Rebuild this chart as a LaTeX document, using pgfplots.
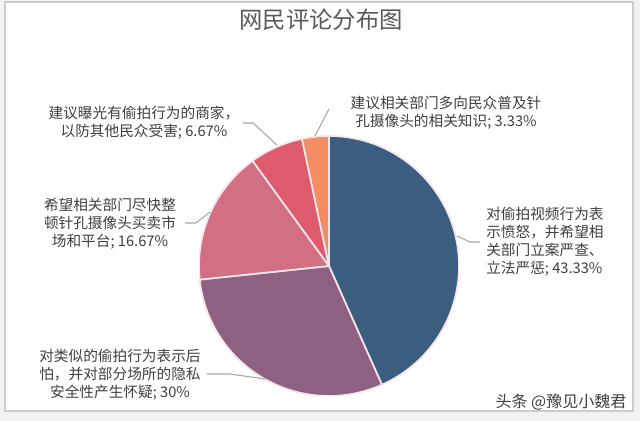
\documentclass[border=0pt]{standalone}
\usepackage{pgfplots}
\pgfplotsset{compat=1.18}
\usepackage{pgfplotstable}
\usepackage{fontspec}
\newfontfamily\cjk{Noto Sans CJK SC}
\definecolor{c0}{HTML}{3A5D80}
\definecolor{c1}{HTML}{8E6081}
\definecolor{c2}{HTML}{D26F82}
\definecolor{c3}{HTML}{DE5B6E}
\definecolor{c4}{HTML}{F28D64}
\definecolor{edge}{HTML}{F5E4EA}
\definecolor{lbl}{HTML}{404040}
\definecolor{lead}{HTML}{A6A6A6}
\pgfplotstableread{
value
43.33
30
16.67
6.67
3.33
}\piedata
\begin{document}
\begin{tikzpicture}[x=0.75pt,y=0.75pt]
\fill[black!5] (0,0) rectangle (640,421);
\fill[white,draw=black!20,line width=1.1pt] (5,10) rectangle (633,419);
\begin{axis}[at={(246.75pt,116.25pt)},anchor=center,scale only axis,width=195pt,height=195pt,
  xmin=-1,xmax=1,ymin=-1,ymax=1,hide axis]
\pgfplotsextra{%
  \gdef\cumang{90}%
  \pgfplotsforeachungrouped \i in {0,...,4}{%
    \pgfplotstablegetelem{\i}{value}\of\piedata
    \pgfmathsetmacro\endang{\cumang-3.6*\pgfplotsretval}%
    \edef\cmd{\noexpand\filldraw[fill=c\i,draw=edge,line width=1.3pt,line join=round] (axis cs:0,0) -- ++(\cumang:97.5pt) arc[start angle=\cumang,end angle=\endang,radius=97.5pt] -- cycle;}%
    \cmd
    \xdef\cumang{\endang}%
  }%
}
\end{axis}
% leader lines
\draw[lead,line width=0.8pt] (315,285) -- (329,312);
\draw[lead,line width=0.8pt] (243,298) -- (253,298) -- (277,276);
\draw[lead,line width=0.8pt] (185,198) -- (196,198) -- (210,209);
\draw[lead,line width=0.8pt] (457,185) -- (470,179) -- (480,179);
\draw[lead,line width=0.8pt] (207,47) -- (230,47) -- (265,42);
% labels
\tikzset{lb/.style={text=lbl,inner sep=0pt,font=\cjk\fontsize{11}{13.5}\selectfont}}
\node[lb,align=center] at (446,308) {建议相关部门多向民众普及针\\孔摄像头的相关知识; 3.33\%};
\node[lb,align=center] at (144,298) {建议曝光有偷拍行为的商家，\\以防其他民众受害; 6.67\%};
\node[lb,align=center] at (110,197) {希望相关部门尽快整\\顿针孔摄像头买卖市\\场和平台; 16.67\%};
\node[lb,align=left,anchor=west] at (486,179) {对偷拍视频行为表\\示愤怒，并希望相\\关部门立案严查、\\立法严惩; 43.33\%};
\node[lb,align=center] at (120,46) {对类似的偷拍行为表示后\\怕，并对部分场所的隐私\\安全性产生怀疑; 30\%};
% title
\node[text=black!65,font=\cjk\fontsize{17.5}{21}\selectfont] at (321,401) {网民评论分布图};
% watermark
\node[text=black!75,font=\cjk\fontsize{12}{14}\selectfont] at (561,19) {头条 @豫见小魏君};
\end{tikzpicture}
\end{document}
